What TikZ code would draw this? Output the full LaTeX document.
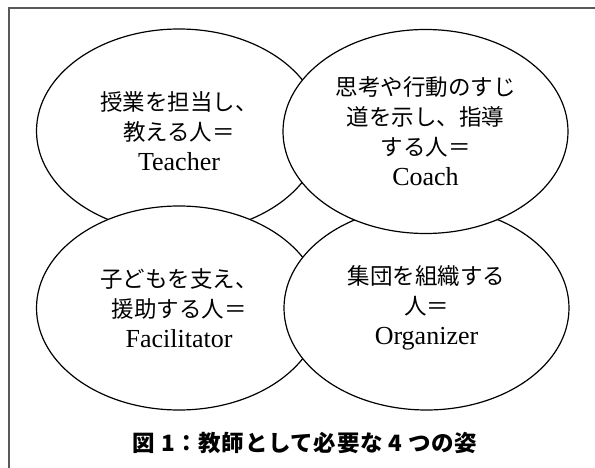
\documentclass[tikz,border=0pt]{standalone}
\usepackage{fontspec}
\setmainfont{Liberation Serif}
\newfontfamily\jpfont{Noto Sans CJK JP}
\usetikzlibrary{shapes.geometric}
\newcommand\jpline[1]{{\jpfont #1}}
\newcommand\enline[1]{{\fontsize{26}{30}\selectfont #1}}
\begin{document}
\begin{tikzpicture}[x=1pt,y=-1pt,
  role/.style={ellipse, draw=black, line width=1.2pt, fill=white,
    minimum width=285pt, minimum height=204pt, inner sep=0pt,
    align=center, font=\fontsize{22.5}{30}\selectfont},
  frameline/.style={draw=black!65, line width=1.6pt},
  captionstyle/.style={font=\jpfont\bfseries\fontsize{22.5}{26}\selectfont\addfontfeature{LetterSpace=3}}]
\useasboundingbox (0,0) rectangle (595,468);
\draw[frameline] (9,8) rectangle (660,520);
\node[role] (teacher) at (179,131)
  {\jpline{授業を担当し、}\\\jpline{教える人＝}\\\enline{Teacher}};
\node[role] (facilitator) at (179,308)
  {\jpline{子どもを支え、}\\\jpline{援助する人＝}\\\enline{Facilitator}};
\node[role] (organizer) at (426.5,308)
  {\jpline{集団を組織する}\\\jpline{人＝}\\\enline{Organizer}};
\node[role] (coach) at (425.5,131.5)
  {\jpline{思考や行動のすじ}\\\jpline{道を示し、指導}\\\jpline{する人＝}\\\enline{Coach}};
\node[captionstyle] (caption) at (305,443) {図 1：教師として必要な 4 つの姿};
\end{tikzpicture}
\end{document}
